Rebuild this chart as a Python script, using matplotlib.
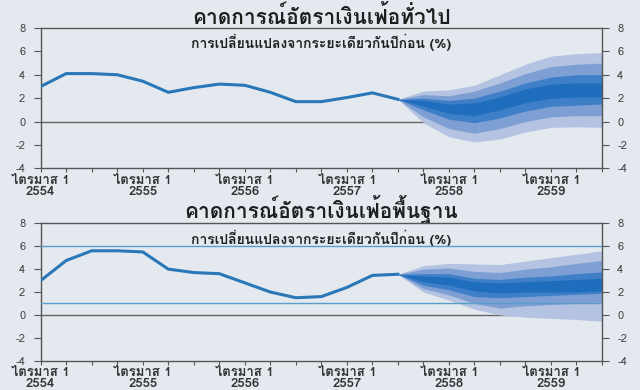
import matplotlib
matplotlib.use("Agg")
import matplotlib.pyplot as plt
from matplotlib import font_manager
from matplotlib.ft2font import FT2Font
import numpy as np

# ---- find a font with Thai glyphs, preferring one with a bold face ----
cands = {}
for f in font_manager.fontManager.ttflist:
    try:
        cm = FT2Font(f.fname).get_charmap()
    except Exception:
        continue
    if 0x0E01 in cm and 0x0E40 in cm:
        w = f.weight if isinstance(f.weight, int) else 400
        cands.setdefault(f.name, set()).add(w)
thai_family = None
pref = ["Noto Sans Thai", "Noto Sans Thai Looped", "Loma", "Garuda", "Tlwg Typo"]
for p in pref:
    if p in cands and max(cands[p]) >= 600:
        thai_family = p
        break
if thai_family is None:
    bolds = sorted(n for n, ws in cands.items() if max(ws) >= 600)
    if bolds:
        thai_family = bolds[0]
    elif cands:
        thai_family = sorted(cands)[0]
families = ([thai_family] if thai_family else []) + ["DejaVu Sans"]
plt.rcParams["font.family"] = families
plt.rcParams["axes.unicode_minus"] = False

# ---- data ----
quarters = np.arange(0, 23)
year_labels = ["ไตรมาส 1\n2554", "ไตรมาส 1\n2555", "ไตรมาส 1\n2556",
               "ไตรมาส 1\n2557", "ไตรมาส 1\n2558", "ไตรมาส 1\n2559"]
year_ticks = [0, 4, 8, 12, 16, 20]

headline_actual = [3.0, 4.1, 4.1, 4.0, 3.45, 2.5, 2.9, 3.2, 3.1, 2.5, 1.7, 1.7, 2.05, 2.45, 1.9]
core_actual = [3.0, 4.75, 5.6, 5.6, 5.5, 4.0, 3.7, 3.6, 2.8, 2.0, 1.5, 1.6, 2.4, 3.45, 3.55]

fan_q = [14, 15, 16, 17, 18, 19, 20, 21, 22]
# headline fan bounds (90%,70%,50%,30% upper ; 30%,50%,70%,90% lower)
h_up90 = [1.9, 2.6, 2.7, 3.1, 4.0, 4.9, 5.6, 5.8, 5.9]
h_up70 = [1.9, 2.3, 2.2, 2.6, 3.3, 4.1, 4.7, 4.9, 5.0]
h_up50 = [1.9, 2.0, 1.8, 2.0, 2.6, 3.3, 3.8, 4.0, 4.0]
h_up30 = [1.9, 1.8, 1.5, 1.6, 2.1, 2.8, 3.2, 3.3, 3.3]
h_lo30 = [1.9, 1.3, 0.7, 0.5, 1.0, 1.6, 2.0, 2.1, 2.1]
h_lo50 = [1.9, 1.0, 0.2, -0.1, 0.3, 0.9, 1.3, 1.4, 1.5]
h_lo70 = [1.9, 0.4, -0.6, -1.0, -0.6, 0.0, 0.4, 0.5, 0.5]
h_lo90 = [1.9, -0.1, -1.3, -1.75, -1.5, -0.9, -0.5, -0.45, -0.5]

# core fan bounds
c_up90 = [3.55, 4.3, 4.5, 4.45, 4.4, 4.7, 5.0, 5.3, 5.6]
c_up70 = [3.55, 4.0, 4.1, 3.8, 3.7, 4.0, 4.2, 4.5, 4.75]
c_up50 = [3.55, 3.6, 3.6, 3.2, 3.1, 3.3, 3.4, 3.6, 3.75]
c_up30 = [3.55, 3.4, 3.3, 2.9, 2.8, 2.9, 3.0, 3.1, 3.2]
c_lo30 = [3.55, 2.9, 2.6, 2.1, 1.9, 2.0, 2.0, 2.0, 2.1]
c_lo50 = [3.55, 2.6, 2.2, 1.6, 1.5, 1.6, 1.7, 1.8, 1.9]
c_lo70 = [3.55, 2.3, 1.75, 1.0, 0.6, 0.8, 0.9, 1.0, 1.15]
c_lo90 = [3.55, 2.0, 1.3, 0.5, 0.0, -0.2, -0.3, -0.4, -0.55]

core_target = [1.0, 6.0]

titles = ["คาดการณ์อัตราเงินเฟ้อทั่วไป", "คาดการณ์อัตราเงินเฟ้อพื้นฐาน"]
subtitle = "การเปลี่ยนแปลงจากระยะเดียวกันปีก่อน (%)"

# ---- style ----
BG = "#e3e9ef"
LINE = "#2a77b8"
C90 = "#b3c3e1"
C70 = "#7e9fd3"
C50 = "#3f7fc8"
C30 = "#1f6ebd"
AX = "#555555"

fig = plt.figure(figsize=(6.4, 3.9), dpi=100, facecolor=BG)
ax1 = fig.add_axes([0.0636, 0.5685, 0.877, 0.3597])
ax2 = fig.add_axes([0.0636, 0.0751, 0.877, 0.3523])


def draw_fan(ax, ups, los):
    cols = [C90, C70, C50, C30]
    for (u, l), c in zip(zip(ups, los), cols):
        ax.fill_between(fan_q, u, l, color=c, lw=0, zorder=2)


def style(ax, title):
    ax.set_facecolor(BG)
    ax.set_xlim(0, 22)
    ax.set_ylim(-4, 8)
    ax.set_yticks([-4, -2, 0, 2, 4, 6, 8])
    ax.set_xticks(year_ticks)
    ax.set_xticklabels(year_labels, fontsize=9.5, color="#333333", linespacing=0.9)
    for lab in ax.get_xticklabels():
        lab.set_fontweight("semibold")
    ax.set_xticks(quarters, minor=True)
    ax.tick_params(axis="x", which="both", direction="out", length=3, width=0.8,
                   color=AX, pad=1.5)
    ax.tick_params(axis="y", direction="out", length=5, width=0.8, color=AX,
                   labelsize=8, labelcolor="#444444", left=True, right=True,
                   labelleft=True, labelright=True, pad=6)
    for s in ax.spines.values():
        s.set_color(AX)
        s.set_linewidth(1.0)
    ax.axhline(0, color="#666666", lw=1.0, zorder=1)
    ax.text(0.5, 1.0, title, transform=ax.transAxes, ha="center", va="bottom",
            fontsize=15, fontweight="bold", color="#1e1e1e")
    ax.text(0.5, 0.955, subtitle, transform=ax.transAxes, ha="center", va="top",
            fontsize=10, fontweight="bold", color="#222222")


style(ax1, titles[0])
draw_fan(ax1, [h_up90, h_up70, h_up50, h_up30], [h_lo90, h_lo70, h_lo50, h_lo30])
ax1.plot(quarters[:len(headline_actual)], headline_actual, color=LINE, lw=2.2, zorder=3)

style(ax2, titles[1])
for v in core_target:
    ax2.axhline(v, color="#5a9ccc", lw=1.0, zorder=3)
draw_fan(ax2, [c_up90, c_up70, c_up50, c_up30], [c_lo90, c_lo70, c_lo50, c_lo30])
ax2.plot(quarters[:len(core_actual)], core_actual, color=LINE, lw=2.2, zorder=4)

fig.savefig("out.png", dpi=100, facecolor=BG)
